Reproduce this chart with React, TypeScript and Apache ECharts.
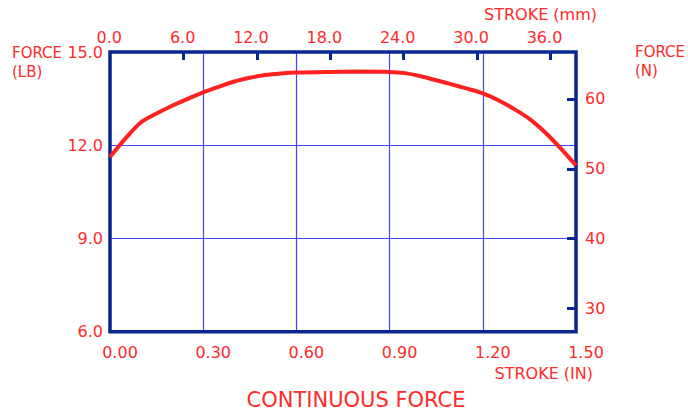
import React, { useEffect, useRef } from "react";
import * as echarts from "echarts";

// Stroke in inches and continuous force in pounds
const strokeIn = [0, 0.05, 0.1, 0.15, 0.2, 0.25, 0.3, 0.35, 0.4, 0.45, 0.5, 0.55, 0.6, 0.7, 0.8, 0.9, 0.95, 1.0, 1.05, 1.1, 1.15, 1.2, 1.25, 1.3, 1.35, 1.4, 1.45, 1.5];
const forceLb = [11.62, 12.22, 12.74, 13.02, 13.27, 13.49, 13.7, 13.88, 14.05, 14.17, 14.26, 14.31, 14.34, 14.36, 14.37, 14.36, 14.32, 14.22, 14.09, 13.96, 13.82, 13.67, 13.45, 13.17, 12.85, 12.42, 11.91, 11.35];

// Secondary scales
const mmTicks = [0, 6, 12, 18, 24, 30, 36];
const newtonTicks = [30, 40, 50, 60];
const IN_MAX = 1.5;
const LB_MIN = 6;
const LB_MAX = 15;
const MM_PER_IN = 25.4;
const N_PER_LB = 4.44822;

const RED = "#ff2a2a";
const FRAME = "#082590";
const GRID_BLUE = "#4444ff";
const FONT = "DejaVu Sans";

export default function App() {
  const ref = useRef<HTMLDivElement>(null);

  useEffect(() => {
    if (!ref.current) return;
    const chart = echarts.init(ref.current, undefined, { renderer: "svg" });
    const mmMax = IN_MAX * MM_PER_IN;
    const plotW = 466;
    const labelShift = (12 * mmMax) / plotW;

    chart.setOption({
      animation: false,
      backgroundColor: "#ffffff",
      grid: {
        left: 110,
        right: 112,
        top: 52,
        bottom: 80.3,
        show: true,
        borderColor: FRAME,
        borderWidth: 3.5,
        backgroundColor: "transparent",
        z: 3,
      },
      xAxis: [
        {
          type: "value",
          position: "bottom",
          min: 0,
          max: IN_MAX,
          interval: 0.3,
          axisLine: { show: false, onZero: false },
          axisTick: { show: false },
          axisLabel: {
            color: RED,
            fontFamily: FONT,
            fontSize: 16,
            margin: 13,
            padding: [0, 0, 0, 20],
            formatter: (v: number) => v.toFixed(2),
          },
          splitLine: { show: true, lineStyle: { color: GRID_BLUE, width: 1.2 } },
        },
        {
          type: "value",
          position: "top",
          min: 0,
          max: mmMax,
          axisLine: { show: false, onZero: false },
          axisTick: {
            show: true,
            inside: true,
            length: 8,
            customValues: mmTicks.slice(1),
            lineStyle: { color: FRAME, width: 3 },
          },
          axisLabel: { show: false },
          splitLine: { show: false },
        },
        {
          type: "value",
          position: "top",
          min: -labelShift,
          max: mmMax - labelShift,
          axisLine: { show: false, onZero: false },
          axisTick: { show: false },
          axisLabel: {
            color: RED,
            fontFamily: FONT,
            fontSize: 16,
            margin: 7,
            align: "right",
            customValues: mmTicks,
            formatter: (v: number) => v.toFixed(1),
          },
          splitLine: { show: false },
        },
      ],
      yAxis: [
        {
          type: "value",
          position: "left",
          min: LB_MIN,
          max: LB_MAX,
          interval: 3,
          axisLine: { show: false, onZero: false },
          axisTick: { show: false },
          axisLabel: {
            color: RED,
            fontFamily: FONT,
            fontSize: 16,
            margin: 7,
            formatter: (v: number) => v.toFixed(1),
          },
          splitLine: { show: true, lineStyle: { color: GRID_BLUE, width: 1.2 } },
        },
        {
          type: "value",
          position: "right",
          min: LB_MIN * N_PER_LB,
          max: LB_MAX * N_PER_LB,
          axisLine: { show: false, onZero: false },
          axisTick: {
            show: true,
            inside: true,
            length: 9,
            customValues: newtonTicks,
            lineStyle: { color: FRAME, width: 3 },
          },
          axisLabel: {
            color: RED,
            fontFamily: FONT,
            fontSize: 16,
            margin: 9,
            customValues: newtonTicks,
            formatter: (v: number) => String(v),
          },
          splitLine: { show: false },
        },
      ],
      series: [
        {
          type: "line",
          xAxisIndex: 0,
          yAxisIndex: 0,
          data: strokeIn.map((x, i) => [x, forceLb[i]]),
          smooth: 0.3,
          symbol: "none",
          clip: false,
          lineStyle: { color: "#ff2020", width: 4 },
          z: 5,
        },
      ],
      graphic: [
        {
          type: "text",
          left: 12,
          top: 43,
          style: { text: "FORCE\n(LB)", fill: RED, fontFamily: FONT, fontSize: 15, lineHeight: 19 },
        },
        {
          type: "text",
          left: 635,
          top: 42,
          style: { text: "FORCE\n(N)", fill: RED, fontFamily: FONT, fontSize: 15, lineHeight: 19 },
        },
        {
          type: "text",
          x: 597,
          y: 14,
          style: { text: "STROKE (mm)", fill: RED, fontFamily: FONT, fontSize: 16, align: "right", verticalAlign: "middle" },
        },
        {
          type: "text",
          x: 593,
          y: 373,
          style: { text: "STROKE (IN)", fill: RED, fontFamily: FONT, fontSize: 16, align: "right", verticalAlign: "middle" },
        },
        {
          type: "text",
          x: 356,
          y: 400,
          style: { text: "CONTINUOUS FORCE", fill: RED, fontFamily: FONT, fontSize: 21, align: "center", verticalAlign: "middle" },
        },
      ],
    });

    return () => chart.dispose();
  }, []);

  return (
    <div
      ref={ref}
      style={{ position: "fixed", left: 0, top: 0, width: 688, height: 412, background: "#fff" }}
    />
  );
}
